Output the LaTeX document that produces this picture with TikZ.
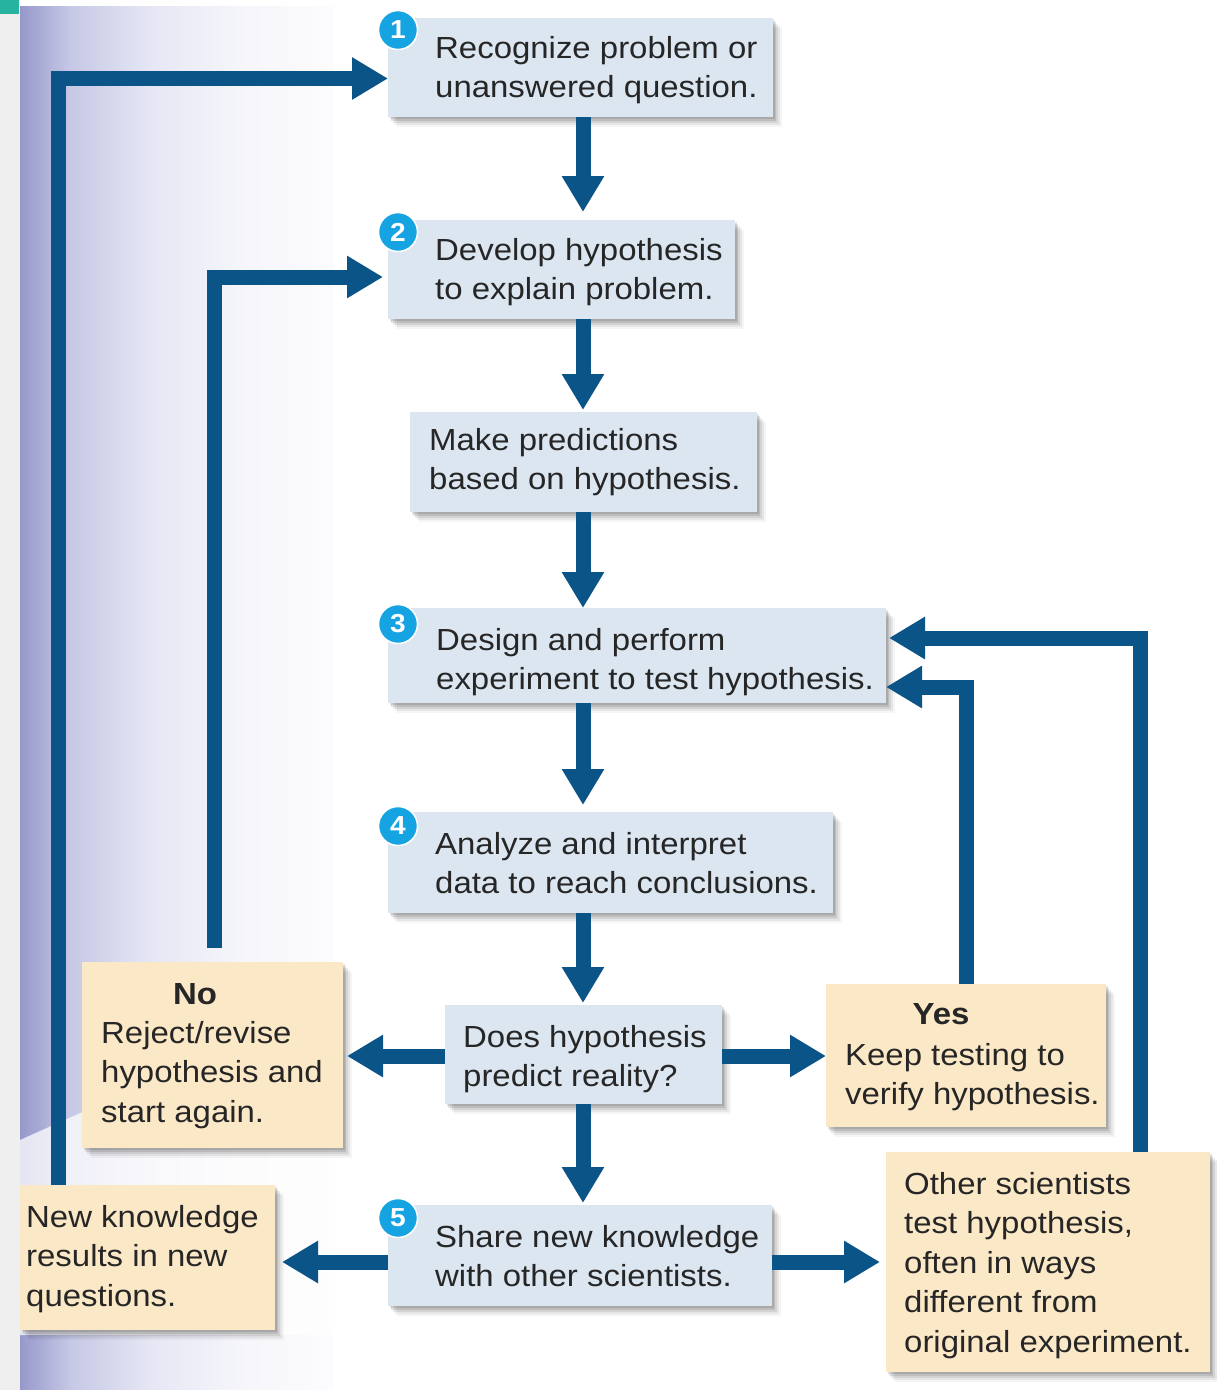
\documentclass[tikz,border=0pt]{standalone}
\usepackage{fontspec}
\setmainfont{Liberation Sans}[FakeStretch=1.08]
\usetikzlibrary{arrows.meta,shadows}
\definecolor{arrowblue}{RGB}{10,84,136}
\definecolor{boxblue}{RGB}{219,230,241}
\definecolor{boxyellow}{RGB}{251,232,199}
\definecolor{badgeblue}{RGB}{22,163,226}
\definecolor{txtgray}{RGB}{38,38,38}
\definecolor{stripgray}{RGB}{239,239,239}
\definecolor{cornerteal}{RGB}{38,180,160}
\definecolor{pA}{RGB}{150,152,202}
\definecolor{pB}{RGB}{198,200,230}
\definecolor{pC}{RGB}{230,231,244}
\definecolor{pD}{RGB}{246,246,251}
\definecolor{pE}{RGB}{252,252,254}
\pgfdeclarehorizontalshading{lpanel}{100bp}{color(0bp)=(pA); color(25bp)=(pA); color(33bp)=(pB); color(46bp)=(pC); color(61bp)=(pD); color(75bp)=(pE); color(100bp)=(pE)}
\tikzset{
  box/.style={anchor=north west, inner sep=0pt, outer sep=0pt,
    general shadow={shadow xshift=9pt, shadow yshift=-10pt, fill=black, opacity=0.04},
    general shadow={shadow xshift=7pt, shadow yshift=-8pt, fill=black, opacity=0.06},
    general shadow={shadow xshift=5pt, shadow yshift=-6pt, fill=black, opacity=0.08},
    general shadow={shadow xshift=3pt, shadow yshift=-4pt, fill=black, opacity=0.10},
    general shadow={shadow xshift=1.5pt, shadow yshift=-2pt, fill=black, opacity=0.10}},
  bluebox/.style={box, fill=boxblue},
  yelbox/.style={box, fill=boxyellow},
  txt/.style={anchor=north west, inner sep=0pt, align=left, text=txtgray,
    font=\fontsize{30.5}{39.5}\selectfont},
  head/.style={anchor=north, inner sep=0pt, text=txtgray,
    font=\fontsize{30.5}{39.5}\selectfont\bfseries},
  badge/.style={circle, fill=badgeblue, draw=white, line width=1.5pt, minimum size=39pt,
    inner sep=0pt, text=white, font=\fontsize{26}{26}\selectfont\bfseries},
  arr/.style={draw=arrowblue, line width=15pt, -{Triangle[length=36pt,width=40pt]}}
}
\begin{document}
\begin{tikzpicture}[x=1pt,y=-1pt]
\useasboundingbox (0,0) rectangle (1216,1390);
\fill[white] (0,0) rectangle (1216,1390);
% background decorations
\fill[stripgray] (0,0) rectangle (20,1390);
\fill[cornerteal] (0,0) rectangle (19,14);
\shade[shading=lpanel] (20,6) rectangle (333,1390);
\fill[white, opacity=0.75] (20,1140) -- (333,1000) -- (333,1335) -- (20,1335) -- cycle;

% blue boxes
\node[bluebox, minimum width=385pt, minimum height=99pt] (b1) at (388,18) {};
\node[bluebox, minimum width=347pt, minimum height=99pt] (b2) at (388,220) {};
\node[bluebox, minimum width=347pt, minimum height=100pt] (bp) at (410,412) {};
\node[bluebox, minimum width=498pt, minimum height=95pt] (b3) at (388,608) {};
\node[bluebox, minimum width=445pt, minimum height=101pt] (b4) at (388,812) {};
\node[bluebox, minimum width=277pt, minimum height=99pt] (bd) at (445,1005) {};
\node[bluebox, minimum width=384pt, minimum height=101pt] (b5) at (388,1205) {};
% yellow boxes
\node[yelbox, minimum width=261pt, minimum height=186pt] (no) at (82,962) {};
\node[yelbox, minimum width=280pt, minimum height=143pt] (yes) at (826,984) {};
\node[yelbox, minimum width=255pt, minimum height=145pt] (nk) at (20,1185) {};
\node[yelbox, minimum width=324pt, minimum height=220pt] (oth) at (886,1152) {};

% texts
\node[txt] (t1) at (435,36) {Recognize problem or\\unanswered question.};
\node[txt] (t2) at (435,238) {Develop hypothesis\\to explain problem.};
\node[txt] (tp) at (429,428) {Make predictions\\based on hypothesis.};
\node[txt] (t3) at (436,628) {Design and perform\\experiment to test hypothesis.};
\node[txt] (t4) at (435,832) {Analyze and interpret\\data to reach conclusions.};
\node[txt] (td) at (463,1025) {Does hypothesis\\predict reality?};
\node[txt] (t5) at (435,1225) {Share new knowledge\\with other scientists.};
\node[head] (hno) at (195,983) {No};
\node[txt] (tno) at (101,1021) {Reject/revise\\hypothesis and\\start again.};
\node[head] (hyes) at (941,1003) {Yes};
\node[txt] (tyes) at (845,1043) {Keep testing to\\verify hypothesis.};
\node[txt] (tnk) at (26,1205) {New knowledge\\results in new\\questions.};
\node[txt] (toth) at (904,1172) {Other scientists\\test hypothesis,\\often in ways\\different from\\original experiment.};

% badges
\node[badge] (n1) at (398,30) {1};
\node[badge] (n2) at (398,232) {2};
\node[badge] (n3) at (398,624) {3};
\node[badge] (n4) at (398,826) {4};
\node[badge] (n5) at (398,1218) {5};

% main vertical arrows
\coordinate (vx) at (583,0);
\draw[arr, shorten >=8pt] (vx |- b1.south) -- (vx |- b2.north);
\draw[arr, shorten >=2pt] (vx |- b2.south) -- (vx |- bp.north);
\draw[arr] (vx |- bp.south) -- (vx |- b3.north);
\draw[arr, shorten >=7pt] (vx |- b3.south) -- (vx |- b4.north);
\draw[arr, shorten >=2pt] (vx |- b4.south) -- (vx |- bd.north);
\draw[arr, shorten >=2pt] (vx |- bd.south) -- (vx |- b5.north);

% horizontal arrows
\coordinate (hy1) at (0,1056);
\draw[arr, shorten >=4pt] (bd.west |- hy1) -- (no.east |- hy1);
\draw[arr] (bd.east |- hy1) -- (yes.west |- hy1);
\coordinate (hy2) at (0,1262);
\draw[arr, shorten >=7pt] (b5.west |- hy2) -- (nk.east |- hy2);
\draw[arr, shorten >=6pt] (b5.east |- hy2) -- (oth.west |- hy2);

% feedback loops
\coordinate (l1) at (58,78.5);
\draw[arr] (l1 |- nk.north) |- (b1.west |- l1);
\coordinate (l2) at (214,277);
\coordinate (l2s) at (214,948);
\draw[arr, shorten >=5pt] (l2s) |- (b2.west |- l2);
\coordinate (l3) at (966,687);
\draw[arr] (l3 |- yes.north) |- (b3.east |- l3);
\coordinate (l4) at (1140,638);
\draw[arr, shorten >=3pt] (l4 |- oth.north) |- (b3.east |- l4);
\end{tikzpicture}
\end{document}
